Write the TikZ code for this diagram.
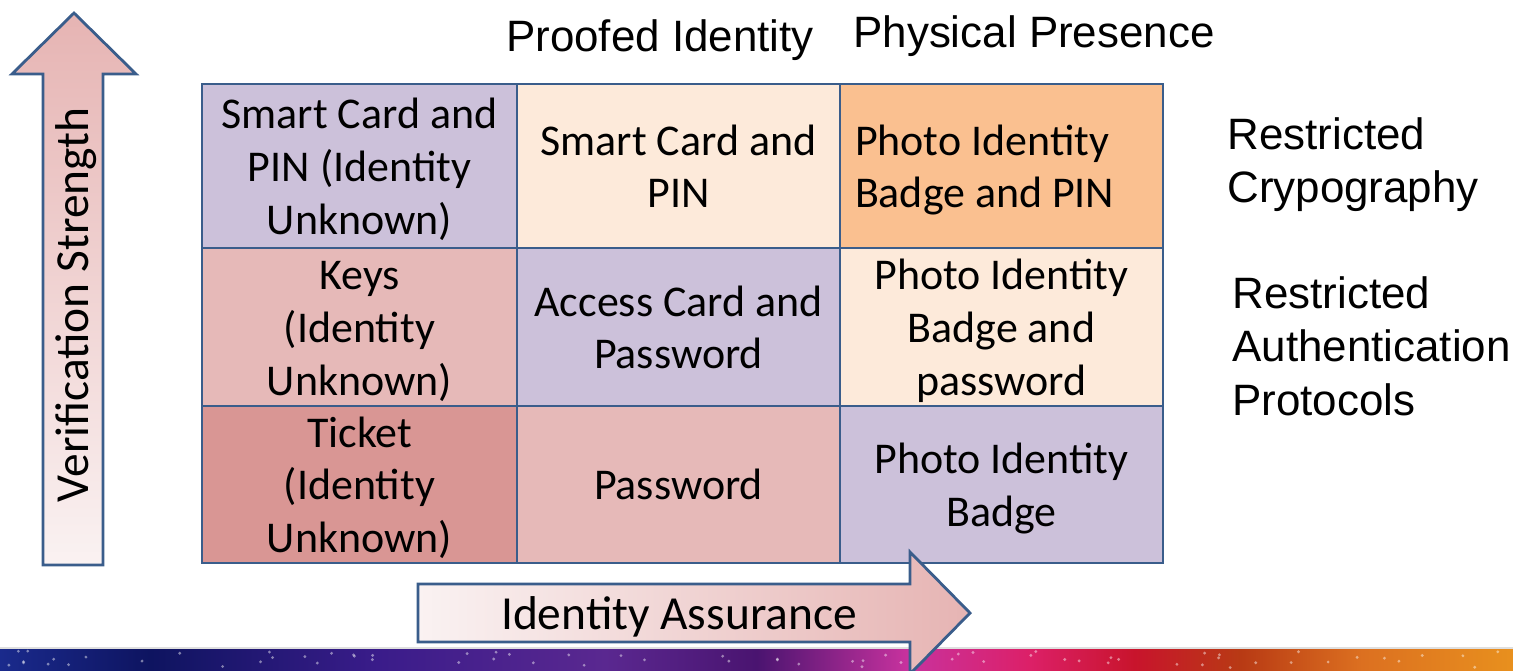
\documentclass[tikz,border=0pt]{standalone}
\usepackage{fontspec}
\setmainfont{Carlito}
\newfontfamily\arialfont{Liberation Sans}
\usetikzlibrary{calc}

\definecolor{gridblue}{HTML}{3A5D8B}
\definecolor{cellpurple}{HTML}{CCC1DA}
\definecolor{cellpeach}{HTML}{FDEADA}
\definecolor{cellorange}{HTML}{FAC090}
\definecolor{cellpink}{HTML}{E6B9B8}
\definecolor{cellred}{HTML}{D99694}
\definecolor{arrowpink}{HTML}{E6B4B3}
\definecolor{arrowwhite}{HTML}{FAF2F2}
\definecolor{bandA}{HTML}{1A2A8C}
\definecolor{bandB}{HTML}{0E1460}
\definecolor{bandC}{HTML}{3A1C8A}
\definecolor{bandD}{HTML}{5A2890}
\definecolor{bandE}{HTML}{4A1470}
\definecolor{bandF}{HTML}{C8329E}
\definecolor{bandG}{HTML}{DC2068}
\definecolor{bandH}{HTML}{C8142C}
\definecolor{bandI}{HTML}{B83A14}
\definecolor{bandJ}{HTML}{DC7020}
\definecolor{bandK}{HTML}{E8901E}
\pgfdeclarehorizontalshading{bandshade}{100bp}{color(0bp)=(bandA); color(25bp)=(bandA); color(30bp)=(bandB); color(37.5bp)=(bandC); color(45bp)=(bandD); color(50bp)=(bandE); color(55bp)=(bandF); color(59bp)=(bandG); color(62.5bp)=(bandH); color(66bp)=(bandI); color(70bp)=(bandJ); color(75bp)=(bandK); color(100bp)=(bandK)}

% struts: height of first line, depth of last line
\newcommand{\celltop}{\rule{0pt}{23.2pt}}
\newcommand{\cellbot}{\rule[-5.6pt]{0pt}{5.6pt}}

\begin{document}
\begin{tikzpicture}[x=0.02cm, y=-0.02cm,
	cell/.style={rectangle, draw=gridblue, line width=1.6pt, inner sep=0pt, align=center, font=\fontsize{25}{29.9}\selectfont},
	sidetext/.style={font=\arialfont\fontsize{25}{30.5}\selectfont, align=left, inner sep=0pt},
	arrowtext/.style={font=\fontsize{27}{32}\selectfont, inner sep=0pt}]

\useasboundingbox (0,0) rectangle (1513,670);

% Bottom band
\shade[shading=bandshade] (0,648) rectangle (1513,670);
\draw[white!75!gray, line width=0.6pt] (0,648) -- (1513,648);
\pgfmathsetseed{11}
\foreach \i in {1,...,70}
	\fill[white, opacity=0.45] (rnd*1513,651+rnd*17) circle (0.9pt);

% Grid cells
\foreach \n/\xc/\yc/\w/\h/\c/\t in {
	c11/359.5/166/6.3/3.28/cellpurple/{Smart Card and\\PIN (Identity\\Unknown)},
	c12/678.5/166/6.46/3.28/cellpeach/{Smart Card and\\PIN},
	c21/359.5/327/6.3/3.16/cellpink/{Keys\\(Identity\\Unknown)},
	c22/678.5/327/6.46/3.16/cellpurple/{Access Card and\\Password},
	c23/1001.5/327/6.46/3.16/cellpeach/{Photo Identity\\Badge and\\password},
	c31/359.5/484.5/6.3/3.14/cellred/{Ticket\\(Identity\\Unknown)},
	c32/678.5/484.5/6.46/3.14/cellpink/{Password},
	c33/1001.5/484.5/6.46/3.14/cellpurple/{Photo Identity\\Badge}}
	\node[cell, fill=\c, minimum width=\w cm, minimum height=\h cm] (\n) at (\xc,\yc) {\celltop\t\cellbot};
\node[cell, fill=cellorange, minimum width=6.46cm, minimum height=3.28cm, text width=5.86cm, align=flush left] (c13) at (1001.5,166) {\celltop Photo Identity\\Badge and PIN\cellbot};

% Column headings
\node[sidetext, anchor=base] (proofed) at (660,51) {Proofed Identity};
\node[sidetext, anchor=base] (physical) at (1034,47) {Physical Presence};

% Row notes
\node[sidetext, anchor=north west] (crypto) at (1227,117) {Restricted\\Crypography};
\node[sidetext, anchor=north west] (protocols) at (1232,276) {Restricted\\Authentication\\Protocols};

% Verification arrow
\shade[top color=arrowpink, bottom color=arrowwhite, draw=gridblue, line width=1.6pt, line join=miter]
	(43,565) -- (43,74) -- (12,74) -- (74,13) -- (136,74) -- (103,74) -- (103,565) -- cycle;
\node[arrowtext, rotate=90, anchor=base] (vstrength) at (88,305) {Verification Strength};

% Assurance arrow
\shade[left color=arrowwhite, right color=arrowpink, draw=gridblue, line width=1.6pt, line join=miter]
	(418,584) -- (910,584) -- (910,552) -- (970,613) -- (910,674) -- (910,642) -- (418,642) -- cycle;
\node[arrowtext, anchor=base] (assurance) at (679,629) {Identity Assurance};

\end{tikzpicture}
\end{document}
